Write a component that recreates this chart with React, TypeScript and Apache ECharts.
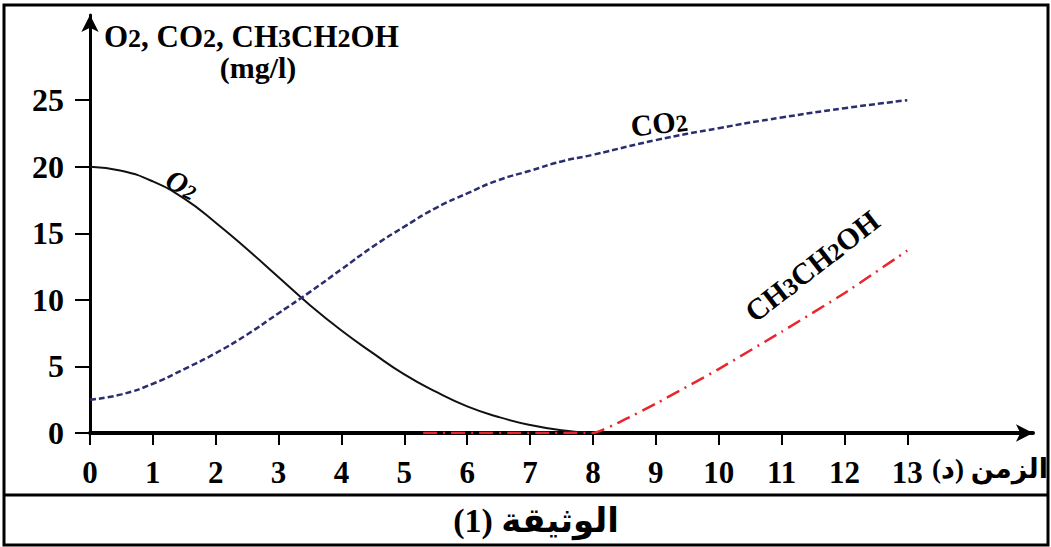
import React, { useEffect, useRef } from "react";
import * as echarts from "echarts";

const xTicks = [0, 1, 2, 3, 4, 5, 6, 7, 8, 9, 10, 11, 12, 13];
const yTicks = [0, 5, 10, 15, 20, 25];

const o2Time = [0, 0.5, 1, 1.5, 2, 2.5, 3, 3.5, 4, 4.5, 5, 5.5, 6, 6.5, 7, 7.5, 8];
const o2Values = [20, 19.7, 18.9, 17.6, 15.8, 13.8, 11.7, 9.6, 7.7, 6.0, 4.4, 3.1, 2.0, 1.2, 0.6, 0.2, 0];

const co2Time = [0, 0.5, 1, 1.5, 2, 2.5, 3, 3.5, 4, 4.5, 5, 5.5, 6, 6.5, 7, 7.5, 8, 9, 10, 11, 12, 13];
const co2Values = [2.5, 2.9, 3.7, 4.8, 6.0, 7.4, 9.0, 10.6, 12.3, 14.0, 15.5, 16.9, 18.0, 19.0, 19.7, 20.4, 20.9, 22.0, 22.9, 23.7, 24.4, 25.0];

const ethTime = [5.3, 8, 8.5, 9, 10, 11, 12, 13];
const ethValues = [0, 0, 1.0, 2.2, 4.8, 7.6, 10.5, 13.7];

const zip = (t: number[], v: number[]) => t.map((x, i) => [x, v[i]]);

const SERIF = "'Liberation Serif', 'Times New Roman', serif";
const ARABIC = "'Liberation Serif', 'DejaVu Sans', sans-serif";

export default function App() {
  const ref = useRef<HTMLDivElement>(null);
  useEffect(() => {
    if (!ref.current) return;
    const chart = echarts.init(ref.current, undefined, { renderer: "svg" });
    const option: any = {
      animation: false,
      backgroundColor: "#ffffff",
      grid: { left: 90, right: 18, top: 15, bottom: 114, outerBoundsMode: "none", containLabel: false },
      xAxis: {
        type: "value",
        min: 0,
        max: 15,
        splitLine: { show: false },
        axisLine: {
          show: true,
          onZero: false,
          symbol: ["none", "arrow"],
          symbolSize: [13, 17],
          lineStyle: { color: "#000", width: 4 },
        },
        axisTick: { show: true, customValues: xTicks, length: 12, lineStyle: { color: "#000", width: 2 } },
        axisLabel: {
          customValues: xTicks,
          margin: 24,
          color: "#000",
          fontFamily: SERIF,
          fontWeight: "bold",
          fontSize: 31,
        },
      },
      yAxis: {
        type: "value",
        min: 0,
        max: 31.4,
        splitLine: { show: false },
        axisLine: {
          show: true,
          onZero: false,
          symbol: ["none", "arrow"],
          symbolSize: [13, 17],
          lineStyle: { color: "#000", width: 3 },
        },
        axisTick: { show: true, customValues: yTicks, length: 15, lineStyle: { color: "#000", width: 2 } },
        axisLabel: {
          customValues: yTicks,
          margin: 26,
          color: "#000",
          fontFamily: SERIF,
          fontWeight: "bold",
          fontSize: 32,
        },
      },
      series: [
        {
          name: "O2",
          type: "line",
          data: zip(o2Time, o2Values),
          smooth: 0.5,
          showSymbol: false,
          lineStyle: { color: "#111", width: 2 },
          z: 3,
        },
        {
          name: "CO2",
          type: "line",
          data: zip(co2Time, co2Values),
          smooth: 0.5,
          showSymbol: false,
          lineStyle: { color: "#2b2e6e", width: 2.5, type: [6, 3] },
        },
        {
          name: "CH3CH2OH",
          type: "line",
          data: zip(ethTime, ethValues),
          smooth: 0.15,
          showSymbol: false,
          lineStyle: { color: "#e8262c", width: 2.5, type: [14, 6, 2, 6] },
        },
      ],
      graphic: [
        {
          type: "rect",
          shape: { x: 4, y: 5, width: 1044, height: 540 },
          style: { fill: "none", stroke: "#000", lineWidth: 3 },
          silent: true,
        },
        {
          type: "line",
          shape: { x1: 4, y1: 495, x2: 1048, y2: 495 },
          style: { stroke: "#000", lineWidth: 3 },
          silent: true,
        },
        {
          type: "text",
          x: 104,
          y: 36,
          style: {
            text: "{n|O}{s|2}{n|, CO}{s|2}{n|, CH}{s|3}{n|CH}{s|2}{n|OH}",
            textVerticalAlign: "middle",
            rich: {
              n: { fontFamily: SERIF, fontWeight: "bold", fontSize: 31, fill: "#000", verticalAlign: "bottom" },
              s: { fontFamily: SERIF, fontWeight: "bold", fontSize: 26, fill: "#000", verticalAlign: "bottom" },
            },
          },
        },
        {
          type: "text",
          x: 258,
          y: 67,
          style: {
            text: "(mg/l)",
            fontFamily: SERIF,
            fontWeight: "bold",
            fontSize: 30,
            fill: "#000",
            textAlign: "center",
            textVerticalAlign: "middle",
          },
        },
        {
          type: "text",
          x: 182,
          y: 184,
          rotation: -0.45,
          style: {
            text: "{n|O}{s|2}",
            textAlign: "center",
            textVerticalAlign: "middle",
            rich: {
              n: { fontFamily: SERIF, fontStyle: "italic", fontWeight: "bold", fontSize: 29, fill: "#000", verticalAlign: "bottom" },
              s: { fontFamily: SERIF, fontStyle: "italic", fontWeight: "bold", fontSize: 21, fill: "#000", verticalAlign: "bottom" },
            },
          },
        },
        {
          type: "text",
          x: 659,
          y: 123,
          rotation: 0.12,
          style: {
            text: "{n|CO}{s|2}",
            textAlign: "center",
            textVerticalAlign: "middle",
            rich: {
              n: { fontFamily: SERIF, fontWeight: "bold", fontSize: 30, fill: "#000", verticalAlign: "bottom" },
              s: { fontFamily: SERIF, fontWeight: "bold", fontSize: 24, fill: "#000", verticalAlign: "bottom" },
            },
          },
        },
        {
          type: "text",
          x: 812,
          y: 266,
          rotation: 0.66,
          style: {
            text: "{n|CH}{s|3}{n|CH}{s|2}{n|OH}",
            textAlign: "center",
            textVerticalAlign: "middle",
            rich: {
              n: { fontFamily: SERIF, fontWeight: "bold", fontSize: 30, fill: "#000", verticalAlign: "bottom" },
              s: { fontFamily: SERIF, fontWeight: "bold", fontSize: 24, fill: "#000", verticalAlign: "bottom" },
            },
          },
        },
        {
          type: "text",
          x: 990,
          y: 469,
          style: {
            text: "الزمن (د)",
            fontFamily: ARABIC,
            fontWeight: "bold",
            fontSize: 27,
            fill: "#000",
            textAlign: "center",
            textVerticalAlign: "middle",
          },
        },
        {
          type: "text",
          x: 536,
          y: 520,
          style: {
            text: "الوثيقة (1)",
            fontFamily: ARABIC,
            fontWeight: "bold",
            fontSize: 34,
            fill: "#000",
            textAlign: "center",
            textVerticalAlign: "middle",
          },
        },
      ],
    };
    chart.setOption(option);
    return () => chart.dispose();
  }, []);
  return (
    <div
      ref={ref}
      style={{ position: "absolute", left: 0, top: 0, width: 1051, height: 547, background: "#fff" }}
    />
  );
}
